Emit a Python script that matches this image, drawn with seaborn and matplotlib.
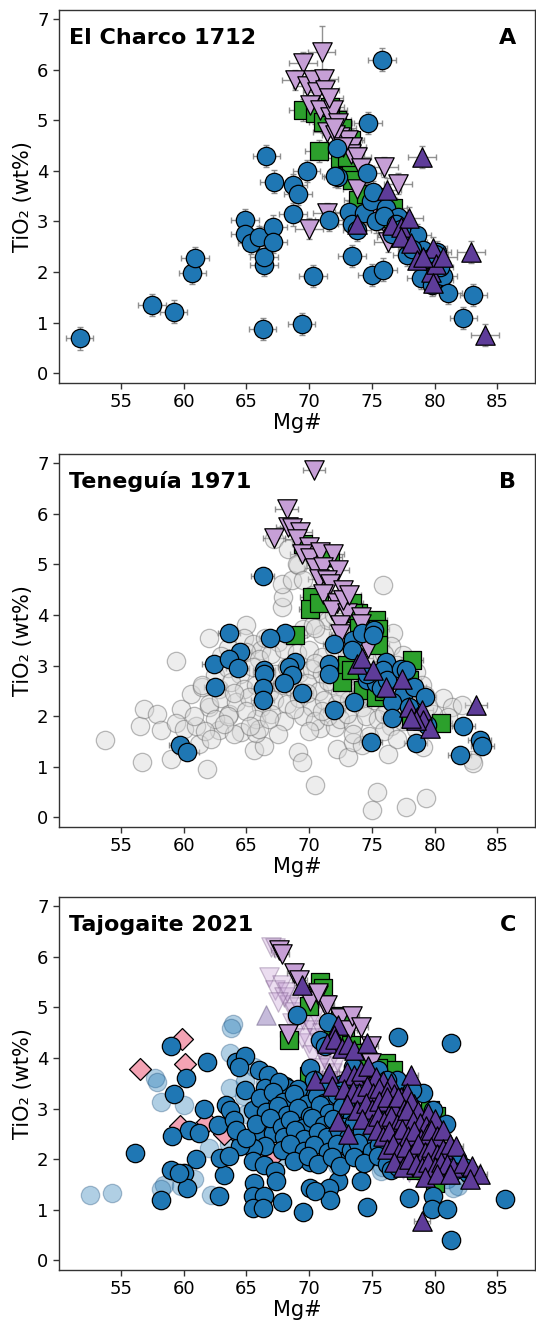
import numpy as np
import matplotlib
matplotlib.use("Agg")
import matplotlib.pyplot as plt
import seaborn as sns

# ---------------------------------------------------------------- data
# Each array holds (Mg#, TiO2 wt%) pairs.

# El Charco 1712
charco_circle = np.array([
    (51.7, 0.69), (57.5, 1.35), (59.2, 1.22), (60.7, 1.99), (60.9, 2.28), (64.9, 3.02), (64.9, 2.75), (65.4, 2.58), (66.0, 2.69), (66.4, 2.14),
    (66.4, 2.30), (67.1, 2.90), (67.1, 2.60), (66.6, 4.29), (67.2, 3.79), (68.7, 3.72), (69.1, 3.54), (68.7, 3.14), (69.8, 4.00), (71.6, 3.03),
    (70.3, 1.92), (69.4, 0.97), (66.3, 0.87), (73.4, 2.32), (75.0, 1.94), (75.9, 2.05), (75.8, 6.20), (74.7, 4.94), (72.2, 4.46), (72.3, 3.88),
    (74.6, 3.96), (73.2, 3.18), (73.4, 2.95), (74.4, 3.16), (74.9, 3.40), (75.1, 3.59), (75.3, 3.00), (76.1, 3.26), (77.1, 3.09), (76.6, 2.76),
    (77.9, 2.67), (78.6, 2.73), (77.8, 2.34), (78.9, 1.88), (79.8, 1.74), (80.7, 1.92), (81.1, 1.59), (83.1, 1.55), (82.3, 1.10), (79.1, 2.44),
    (80.2, 2.40), (73.8, 2.83), (72.1, 3.90), (76.0, 3.10), (76.9, 2.95), (79.5, 2.25), (80.0, 2.35), (80.4, 2.10), (78.2, 2.45), (77.3, 2.85),
])
charco_square = np.array([
    (69.5, 5.21), (70.8, 4.40), (70.5, 5.14), (71.1, 4.97), (72.2, 5.00), (72.6, 4.84), (72.5, 4.25), (73.3, 4.61), (73.3, 3.98), (73.4, 3.82),
    (73.9, 3.42), (75.4, 3.49), (75.9, 3.42), (76.7, 3.26), (76.6, 2.83), (78.3, 2.60), (79.9, 2.11), (80.4, 1.84), (71.7, 5.27), (73.0, 4.28),
    (74.5, 3.55), (77.2, 3.00), (78.8, 2.30),
])
charco_tri_down = np.array([
    (71.0, 6.35), (69.5, 6.14), (68.9, 5.79), (69.8, 5.67), (70.3, 5.79), (71.2, 5.81), (70.6, 5.56), (71.3, 5.60), (70.1, 5.30), (70.9, 5.20),
    (71.7, 5.07), (71.9, 5.20), (72.3, 4.94), (71.4, 4.77), (72.5, 4.67), (73.1, 4.61), (73.4, 4.48), (73.3, 4.34), (73.8, 4.28), (74.1, 4.05),
    (73.8, 3.65), (76.0, 4.08), (77.1, 3.75), (71.4, 3.16), (70.0, 2.86), (76.5, 2.70), (76.3, 2.60), (72.1, 4.71), (72.7, 4.48), (71.6, 5.45),
    (72.0, 4.85), (75.0, 3.25),
])
charco_tri_down_yerr = np.array([0.52] + [0.20] * 31)
charco_tri_up = np.array([
    (79.0, 4.28), (76.2, 3.63), (73.8, 2.96), (76.6, 2.93), (77.3, 2.90), (78.0, 3.06), (77.3, 2.70), (78.1, 2.57), (78.6, 2.24), (79.9, 2.47),
    (79.7, 2.01), (80.1, 2.17), (79.9, 1.78), (80.7, 2.30), (82.9, 2.40), (84.0, 0.76), (79.1, 2.30),
])

# Teneguía 1971
teneguia_background = np.array([
    (53.7, 1.53), (56.5, 1.81), (56.8, 2.15), (56.7, 1.10), (57.9, 2.04), (58.2, 1.72), (59.0, 1.15), (59.4, 3.09), (59.8, 2.15), (60.6, 2.44),
    (59.4, 1.86), (61.2, 1.46), (61.5, 2.58), (61.9, 0.95), (62.0, 3.55), (62.0, 2.19), (62.8, 1.72), (63.6, 2.05), (64.6, 1.68), (65.0, 3.80),
    (65.6, 1.34), (66.4, 1.41), (65.8, 1.66), (67.8, 4.16), (67.9, 4.36), (67.8, 4.61), (68.6, 4.70), (69.1, 4.98), (67.2, 5.51), (69.1, 1.30),
    (69.4, 1.10), (70.5, 0.64), (70.9, 1.76), (72.1, 1.79), (72.2, 1.36), (73.1, 1.20), (73.5, 1.49), (74.2, 1.43), (75.0, 0.14), (75.4, 0.51),
    (76.3, 1.26), (75.9, 4.59), (76.7, 3.65), (77.7, 0.21), (79.3, 0.38), (79.1, 1.40), (80.7, 2.35), (81.4, 2.19), (82.2, 2.22), (83.0, 1.13),
    (83.1, 1.07), (81.1, 1.99), (79.9, 2.05),
    (63.5, 3.35), (64.8, 3.55), (65.5, 3.42), (66.2, 3.31), (67.5, 3.47), (68.5, 3.58), (69.5, 3.72), (70.3, 3.81), (71.0, 3.63), (72.5, 3.56),
    (74.2, 3.61), (75.5, 3.52), (76.5, 3.38), (77.5, 3.21),
    (63.0, 3.18), (64.2, 3.08), (65.0, 3.27), (66.0, 3.13), (67.0, 3.22), (68.0, 3.33), (69.0, 3.24), (70.0, 3.31), (71.0, 3.17), (72.0, 3.34),
    (73.0, 3.24), (74.0, 3.18), (75.0, 3.14), (76.0, 3.22), (77.0, 3.02), (78.5, 2.88),
    (62.5, 2.82), (63.5, 2.96), (64.5, 2.84), (65.5, 2.97), (66.5, 2.88), (67.3, 2.83), (68.2, 2.97), (69.2, 2.86), (70.2, 2.94), (71.0, 2.83),
    (72.0, 2.91), (72.8, 2.79), (73.5, 2.96), (74.5, 2.84), (75.5, 2.92), (76.5, 2.78), (77.5, 2.76), (79.0, 2.61),
    (61.5, 2.62), (62.8, 2.53), (63.8, 2.67), (64.8, 2.54), (65.8, 2.61), (66.8, 2.48), (67.8, 2.62), (68.8, 2.53), (69.8, 2.66), (70.8, 2.49),
    (71.8, 2.61), (72.8, 2.54), (73.8, 2.62), (74.8, 2.48), (75.8, 2.56), (76.8, 2.44), (78.0, 2.52), (79.2, 2.41),
    (62.0, 2.24), (63.0, 2.36), (64.2, 2.28), (65.2, 2.37), (66.2, 2.19), (67.2, 2.31), (68.2, 2.24), (69.2, 2.36), (70.2, 2.19), (71.2, 2.32),
    (72.2, 2.24), (73.2, 2.31), (74.2, 2.19), (75.2, 2.31), (76.2, 2.21), (77.2, 2.26), (78.2, 2.14), (79.5, 2.21),
    (62.5, 1.95), (63.5, 2.00), (65.8, 1.95), (67.0, 2.05), (68.0, 1.90), (69.5, 2.00), (70.5, 1.90), (71.5, 2.00), (72.5, 1.95), (73.5, 1.85),
    (74.5, 2.00), (75.5, 1.95), (76.5, 1.80), (77.5, 1.90), (78.5, 1.75),
    (60.0, 1.75), (61.0, 1.80), (61.7, 1.70), (64.0, 1.65), (66.0, 1.75), (67.5, 1.65), (70.0, 1.70), (73.5, 1.65), (74.8, 1.60), (76.0, 1.70),
    (77.0, 1.55),
    (68.3, 5.30), (69.0, 5.00), (69.5, 4.70), (70.2, 4.40), (70.8, 4.10), (71.5, 3.90), (72.0, 4.00), (70.5, 3.75),
    (64.0, 2.45), (65.0, 2.10), (66.5, 3.55), (68.5, 2.75), (70.5, 3.05), (71.5, 2.70), (73.0, 2.05), (74.0, 2.35), (75.0, 2.65), (76.0, 2.05),
    (77.8, 2.35), (60.8, 2.00), (62.2, 1.55), (63.2, 1.85), (65.3, 1.80), (66.8, 1.95), (68.8, 2.15), (69.8, 2.45), (71.0, 2.10), (72.5, 2.45),
])
teneguia_circle = np.array([
    (66.3, 4.77), (63.6, 3.65), (68.1, 3.65), (66.9, 3.54), (72.0, 3.42), (73.5, 3.50), (74.2, 3.65), (75.2, 3.71), (73.4, 3.30), (64.5, 3.27),
    (62.4, 3.03), (63.6, 3.13), (64.3, 2.96), (62.5, 2.57), (66.4, 2.91), (66.4, 2.84), (66.3, 2.55), (66.3, 2.32), (68.9, 3.07), (68.4, 2.98),
    (68.6, 2.82), (68.0, 2.65), (69.4, 2.45), (71.6, 3.04), (71.6, 2.84), (72.0, 2.12), (73.6, 2.28), (74.6, 2.71), (75.3, 2.65), (75.7, 2.55),
    (76.1, 3.07), (75.9, 2.91), (76.2, 2.71), (77.3, 2.94), (77.7, 2.92), (77.5, 2.42), (76.6, 2.28), (76.6, 1.96), (78.4, 2.57), (79.2, 2.38),
    (78.0, 2.19), (74.9, 1.49), (78.5, 1.48), (82.3, 1.81), (82.0, 1.23), (83.6, 1.53), (83.8, 1.42), (59.7, 1.43), (60.3, 1.30), (79.4, 1.82),
    (74.6, 2.84), (75.1, 3.60),
])
teneguia_square = np.array([
    (68.9, 3.61), (69.5, 5.41), (71.7, 5.15), (70.2, 4.36), (70.1, 4.11), (70.8, 4.23), (73.4, 4.23), (73.9, 4.03), (74.3, 3.90), (75.3, 3.90),
    (75.5, 3.73), (75.5, 3.40), (73.0, 3.01), (72.6, 2.68), (74.3, 2.51), (75.3, 2.38), (75.7, 2.84), (78.2, 3.11), (78.0, 2.71), (78.7, 1.92),
    (80.5, 1.86), (73.3, 2.91), (73.5, 4.03), (78.1, 1.95), (74.0, 3.75), (76.0, 2.50),
])
teneguia_tri_down = np.array([
    (70.4, 6.86), (68.2, 6.10), (67.2, 5.52), (68.3, 5.73), (68.6, 5.71), (69.3, 5.64), (69.0, 5.51), (70.0, 5.35), (69.4, 5.21), (70.1, 5.12),
    (70.9, 5.25), (71.9, 5.21), (70.5, 4.92), (71.1, 4.95), (72.3, 4.88), (70.8, 4.72), (71.4, 4.69), (71.7, 4.62), (72.7, 4.49), (71.1, 4.42),
    (72.2, 4.23), (71.8, 4.09), (73.0, 4.04), (74.1, 3.96), (72.5, 3.80), (74.1, 3.83), (72.5, 3.63), (74.7, 3.34), (72.7, 4.29), (73.2, 4.40),
])
teneguia_tri_up = np.array([
    (83.3, 2.22), (73.8, 3.04), (74.2, 3.14), (75.1, 2.91), (76.1, 2.58), (77.4, 2.73), (78.0, 2.19), (78.6, 1.99), (79.0, 2.12), (79.1, 1.92),
    (79.6, 1.76), (78.5, 1.92), (78.1, 1.96),
])

# Tajogaite 2021
tajogaite_circle_faded = np.array([
    (52.5, 1.29), (54.3, 1.33), (57.7, 3.60), (57.9, 3.52), (58.2, 3.14), (60.0, 3.08), (62.0, 2.22), (63.9, 4.67), (63.8, 4.59), (63.7, 4.10),
    (63.7, 3.41), (64.9, 3.54), (65.6, 3.83), (64.8, 3.24), (58.4, 1.50), (58.2, 1.42), (60.8, 1.60), (62.2, 1.30), (72.2, 1.89), (75.7, 1.76),
    (81.9, 1.47), (81.5, 1.43), (67.9, 2.06), (67.1, 2.98), (59.8, 1.48), (61.0, 2.55), (66.5, 3.50), (68.0, 3.20), (69.5, 3.10), (70.5, 2.90),
    (72.0, 2.60), (74.0, 2.40), (76.0, 2.10), (77.5, 2.00), (65.0, 2.90), (63.6, 2.30), (66.2, 2.00), (75.8, 1.85), (81.0, 1.60), (79.5, 1.90),
])
tajogaite_diamond = np.array([
    (59.9, 4.37), (56.5, 3.79), (60.1, 3.89), (59.7, 2.66), (61.9, 2.73), (64.0, 2.55), (67.1, 2.06), (63.2, 2.50),
])
tajogaite_square = np.array([
    (70.9, 5.51), (71.1, 5.38), (68.4, 4.36), (72.5, 4.82), (72.9, 4.56), (73.3, 4.26), (74.4, 4.10), (76.1, 3.90), (76.7, 3.77), (79.6, 2.98),
    (80.1, 2.85), (80.0, 1.53), (70.0, 3.64), (71.9, 4.52), (70.0, 5.02), (74.8, 3.93), (78.5, 1.79), (80.9, 1.93), (75.5, 3.80), (79.2, 2.70),
])
tajogaite_tri_down_faded = np.array([
    (67.0, 6.20), (67.3, 6.18), (66.8, 5.60), (67.3, 5.35), (67.8, 5.45), (68.0, 5.20), (68.4, 5.05), (68.2, 5.30), (68.8, 4.90), (69.2, 5.00),
    (69.5, 4.75), (69.0, 4.60), (70.0, 4.70), (70.3, 4.55), (70.6, 4.40), (70.0, 4.30), (70.9, 4.20), (71.2, 4.00), (71.5, 3.85), (71.8, 3.70),
    (72.0, 3.55), (72.5, 3.40), (71.0, 4.50), (70.5, 4.85), (69.8, 5.20), (71.6, 4.30), (72.2, 3.95), (73.0, 3.00), (74.5, 2.20), (77.5, 1.80),
    (78.0, 1.75), (67.5, 5.10), (68.6, 4.70), (69.4, 4.40), (70.2, 4.05), (70.8, 3.80), (71.4, 3.55),
])
tajogaite_tri_down = np.array([
    (67.6, 6.13), (67.8, 6.05), (68.8, 5.68), (70.7, 5.25), (71.3, 5.05), (68.3, 4.48), (72.5, 4.79), (73.2, 4.56), (74.9, 4.23), (74.9, 3.90),
    (70.1, 5.12), (73.4, 4.82), (74.1, 4.62), (71.4, 5.05), (70.7, 5.28), (69.2, 5.55),
])
tajogaite_tri_up_faded = np.array([
    (66.6, 4.85), (70.0, 2.60), (71.5, 2.40), (72.5, 2.20), (73.5, 2.90), (76.5, 2.30), (77.5, 1.95), (68.5, 2.30), (69.0, 2.75), (74.8, 2.60),
])
tajogaite_circle = np.array([
    (59.0, 4.24), (61.9, 3.92), (60.2, 3.60), (59.2, 3.29), (61.6, 2.99), (62.7, 2.68), (63.4, 3.08), (63.7, 2.97), (60.4, 2.58), (61.2, 2.52),
    (59.1, 2.45), (56.1, 2.12), (61.0, 2.01), (59.0, 1.78), (60.0, 1.73), (60.3, 1.43), (58.2, 1.20), (62.8, 1.27), (63.2, 1.68), (62.9, 2.02),
    (64.2, 3.93), (64.9, 4.04), (64.4, 3.83), (66.0, 3.77), (66.7, 3.67), (64.9, 3.37), (66.5, 3.41), (68.1, 3.44), (67.3, 3.18), (65.5, 2.98),
    (66.0, 2.55), (67.1, 2.52), (66.5, 2.26), (65.5, 2.22), (64.5, 2.26), (63.6, 2.06), (65.5, 1.96), (66.4, 1.89), (67.3, 1.76), (67.4, 1.56),
    (65.6, 1.53), (65.5, 1.27), (66.4, 1.27), (65.5, 1.04), (66.3, 1.04), (67.8, 1.15), (59.6, 1.72), (64.0, 2.78), (64.2, 2.58), (65.0, 2.42),
    (69.0, 4.85), (71.5, 4.72), (77.1, 4.42), (81.3, 4.29), (70.1, 3.80), (75.5, 3.77), (77.0, 3.57), (79.1, 3.31), (78.2, 3.37), (80.9, 2.70),
    (79.9, 2.98), (76.2, 3.57), (72.3, 1.94), (74.1, 1.56), (74.6, 1.05), (72.3, 1.56), (71.6, 1.43), (71.7, 1.19), (70.1, 1.43), (70.5, 1.37),
    (69.5, 0.96), (78.0, 1.24), (79.9, 1.27), (79.8, 1.01), (81.0, 1.01), (81.3, 0.41), (85.6, 1.22), (82.7, 1.73), (80.6, 1.79), (70.1, 1.95),
    (70.4, 2.29), (68.8, 2.06), (69.2, 2.72), (68.5, 2.45), (69.6, 2.91), (69.4, 3.24), (68.2, 3.41), (71.3, 3.30), (72.9, 3.31), (74.1, 2.91),
    (75.0, 2.12), (74.5, 1.99), (75.9, 2.26), (70.9, 4.36), (71.3, 4.23), (73.5, 3.83), (71.5, 3.47),
    (67.6, 3.52), (69.1, 3.38), (70.4, 3.56), (71.0, 3.41), (72.6, 3.49), (73.7, 3.58),
    (66.1, 3.21), (67.1, 3.32), (67.9, 3.14), (68.8, 3.28), (69.8, 3.09), (70.6, 3.24), (71.2, 3.12), (72.2, 3.27), (73.1, 3.13), (73.9, 3.36),
    (74.7, 3.19), (75.4, 3.30), (76.4, 3.12),
    (66.6, 2.94), (67.5, 3.06), (68.2, 2.87), (69.1, 3.02), (70.1, 2.86), (70.9, 3.07), (71.6, 2.91), (72.6, 3.04), (73.4, 2.84), (74.3, 3.07),
    (75.1, 2.93), (75.7, 3.08), (76.8, 2.90), (77.5, 3.05),
    (65.8, 2.70), (66.9, 2.81), (67.8, 2.64), (68.5, 2.77), (69.5, 2.62), (70.2, 2.81), (71.2, 2.67), (71.9, 2.79), (72.9, 2.63), (73.6, 2.72),
    (74.6, 2.64), (75.3, 2.79), (76.3, 2.66), (77.0, 2.81), (78.1, 2.68),
    (68.0, 2.43), (68.9, 2.57), (69.6, 2.39), (70.7, 2.54), (71.4, 2.43), (72.4, 2.58), (73.1, 2.41), (74.2, 2.55), (74.9, 2.38), (75.9, 2.53),
    (76.6, 2.40), (77.6, 2.56), (78.3, 2.42), (79.3, 2.52),
    (67.8, 2.19), (68.5, 2.31), (69.6, 2.17), (70.4, 2.29), (71.5, 2.14), (72.2, 2.30), (73.3, 2.18), (73.9, 2.32), (75.0, 2.16), (75.6, 2.28),
    (76.7, 2.15), (77.3, 2.30), (78.4, 2.18), (79.0, 2.27), (80.1, 2.20),
    (68.8, 1.96), (69.9, 2.06), (70.7, 1.90), (71.8, 2.04), (72.5, 1.87), (73.6, 2.05), (74.4, 1.92), (75.5, 2.06), (76.2, 1.90), (77.3, 2.03),
    (78.0, 1.93), (79.1, 2.05), (80.1, 1.94), (81.1, 2.07), (81.9, 1.96),
    (76.5, 1.78), (77.1, 1.84), (81.5, 1.77), (82.5, 1.83),
])
tajogaite_tri_up = np.array([
    (69.4, 5.44), (72.3, 4.65), (72.0, 4.45),
    (71.4, 4.30), (72.1, 4.38), (72.6, 4.20), (73.1, 4.28), (73.6, 4.16), (74.6, 4.29),
    (70.5, 3.57), (71.6, 3.70), (73.0, 3.72), (73.6, 3.67), (74.1, 3.75), (74.7, 3.85), (75.3, 3.62), (75.9, 3.55), (76.5, 3.50), (78.1, 3.67),
    (71.8, 3.44), (72.8, 3.38), (73.5, 3.35), (74.0, 3.30), (74.6, 3.45), (75.1, 3.30), (75.6, 3.40), (76.2, 3.35), (76.8, 3.28), (77.3, 3.22),
    (77.8, 3.30), (78.4, 3.10),
    (73.0, 3.10), (73.8, 2.98), (74.5, 3.11), (75.0, 3.00), (75.6, 3.15), (76.2, 3.22), (76.7, 3.05), (77.1, 3.22), (77.6, 3.00), (78.1, 3.15),
    (78.7, 2.95), (79.5, 2.91),
    (72.3, 2.75), (74.2, 2.80), (75.0, 2.70), (75.5, 2.85), (76.0, 2.75), (76.5, 2.85), (77.0, 2.70), (77.5, 2.80), (77.8, 2.98), (78.3, 2.75),
    (78.8, 2.72), (79.3, 2.65), (80.0, 2.80),
    (73.1, 2.49), (75.4, 2.58), (75.9, 2.45), (76.4, 2.55), (76.9, 2.40), (77.4, 2.60), (77.9, 2.45), (78.4, 2.55), (78.9, 2.40), (79.4, 2.50),
    (79.7, 2.58), (80.2, 2.45), (80.7, 2.58),
    (76.2, 2.20), (76.7, 2.30), (77.2, 2.15), (77.7, 2.25), (78.2, 2.10), (78.7, 2.30), (79.2, 2.15), (79.7, 2.25), (80.2, 2.10), (80.7, 2.20),
    (81.2, 2.30), (81.7, 2.26),
    (76.8, 1.95), (77.5, 1.85), (78.0, 2.00), (78.5, 1.90), (79.0, 1.85), (79.5, 1.95), (80.0, 1.85), (80.5, 1.95), (81.0, 1.90), (81.5, 1.85),
    (82.3, 1.93), (83.0, 1.86),
    (79.2, 1.65), (80.2, 1.70), (81.2, 1.70), (83.6, 1.70), (82.8, 1.60),
    (79.0, 0.78),
])

# analytical uncertainty (1 s.d.) used for the error bars: (Mg#, TiO2)
charco_err = (1.1, 0.22)
teneguia_err = (0.9, 0.06)
tajogaite_err = (0.6, 0.05)

panel_titles = ["El Charco 1712", "Teneguía 1971", "Tajogaite 2021"]
panel_letters = ["A", "B", "C"]
x_ticks = [55, 60, 65, 70, 75, 80, 85]
y_ticks = [0, 1, 2, 3, 4, 5, 6, 7]

# ---------------------------------------------------------------- style
sns.set_theme(style="ticks")
plt.rcParams["font.family"] = ["DejaVu Sans"]
plt.rcParams["text.color"] = "black"
plt.rcParams["axes.labelcolor"] = "black"
plt.rcParams["axes.edgecolor"] = "#333333"
plt.rcParams["xtick.color"] = "#333333"
plt.rcParams["ytick.color"] = "#333333"
plt.rcParams["xtick.labelcolor"] = "black"
plt.rcParams["ytick.labelcolor"] = "black"

C_BLUE = "#1f77b4"
C_GREEN = "#2ca02c"
C_LAV = "#c69fd6"
C_PURP = "#5e3c99"
C_PINK = "#f4a3b4"
C_GREY = "#d8d8d8"

S_CIRC = 175
S_SQ = 160
S_TRI = 195
S_DIA = 125

fig = plt.figure(figsize=(5.36, 13.26), dpi=100)
ax_pos = [
    [0.110, 0.7112, 0.888, 0.2813],
    [0.110, 0.3763, 0.888, 0.2813],
    [0.110, 0.0422, 0.888, 0.2813],
]
axes = [fig.add_axes(p) for p in ax_pos]


def draw(ax, pts, marker, size, face, edge="black", alpha=1.0, lw=0.9, z=3, err=None, yerr=None):
    if err is not None:
        ye = err[1] if yerr is None else yerr
        ax.errorbar(pts[:, 0], pts[:, 1], xerr=err[0], yerr=ye, fmt="none",
                    ecolor="#7f7f7f", elinewidth=1.0, capsize=2, capthick=1.0,
                    alpha=0.85, zorder=1.5)
    sns.scatterplot(x=pts[:, 0], y=pts[:, 1], ax=ax, marker=marker, s=size,
                    color=face, edgecolor=edge, linewidth=lw, alpha=alpha,
                    zorder=z, legend=False)


# A: El Charco
ax = axes[0]
draw(ax, charco_square, "s", S_SQ, C_GREEN, err=charco_err, z=3)
draw(ax, charco_tri_down, "v", S_TRI, C_LAV, err=charco_err, yerr=charco_tri_down_yerr, z=4)
draw(ax, charco_circle, "o", S_CIRC, C_BLUE, err=charco_err, z=5)
draw(ax, charco_tri_up, "^", S_TRI, C_PURP, err=charco_err, z=6)

# B: Teneguía
ax = axes[1]
draw(ax, teneguia_background, "o", S_CIRC, C_GREY, edge="#666666", alpha=0.45, lw=0.9, z=2)
draw(ax, teneguia_square, "s", S_SQ, C_GREEN, err=teneguia_err, z=3)
draw(ax, teneguia_tri_down, "v", S_TRI, C_LAV, err=teneguia_err, z=4)
draw(ax, teneguia_circle, "o", S_CIRC, C_BLUE, err=teneguia_err, z=5)
draw(ax, teneguia_tri_up, "^", S_TRI, C_PURP, err=teneguia_err, z=6)

# C: Tajogaite
ax = axes[2]
draw(ax, tajogaite_circle_faded, "o", S_CIRC, C_BLUE, edge="#1f4f7a", alpha=0.35, z=2)
draw(ax, tajogaite_tri_down_faded, "v", S_TRI, C_LAV, edge="#6a4a7a", alpha=0.35, z=2)
draw(ax, tajogaite_tri_up_faded, "^", S_TRI, C_PURP, edge="#3a2a5a", alpha=0.35, z=2)
draw(ax, tajogaite_diamond, "D", S_DIA, C_PINK, z=3)
draw(ax, tajogaite_square, "s", S_SQ, C_GREEN, z=3)
draw(ax, tajogaite_tri_down, "v", S_TRI, C_LAV, err=tajogaite_err, z=4)
draw(ax, tajogaite_circle, "o", S_CIRC, C_BLUE, z=5)
draw(ax, tajogaite_tri_up, "^", S_TRI, C_PURP, err=tajogaite_err, z=6)

for ax, title, letter in zip(axes, panel_titles, panel_letters):
    ax.set_xlim(50.06, 88.0)
    ax.set_ylim(-0.19, 7.18)
    ax.set_xticks(x_ticks)
    ax.set_yticks(y_ticks)
    ax.tick_params(axis="both", labelsize=13, length=4, width=1)
    ax.set_xlabel("Mg#", fontsize=15, labelpad=1)
    ax.set_ylabel("TiO₂ (wt%)", fontsize=15, labelpad=3)
    for sp in ax.spines.values():
        sp.set_visible(True)
        sp.set_linewidth(1.0)
    ax.text(0.021, 0.925, title, transform=ax.transAxes, fontsize=16,
            fontweight="bold", ha="left", va="center", zorder=10)
    ax.text(0.96, 0.925, letter, transform=ax.transAxes, fontsize=16,
            fontweight="bold", ha="right", va="center", zorder=10)

fig.savefig("out.png", dpi=100)
